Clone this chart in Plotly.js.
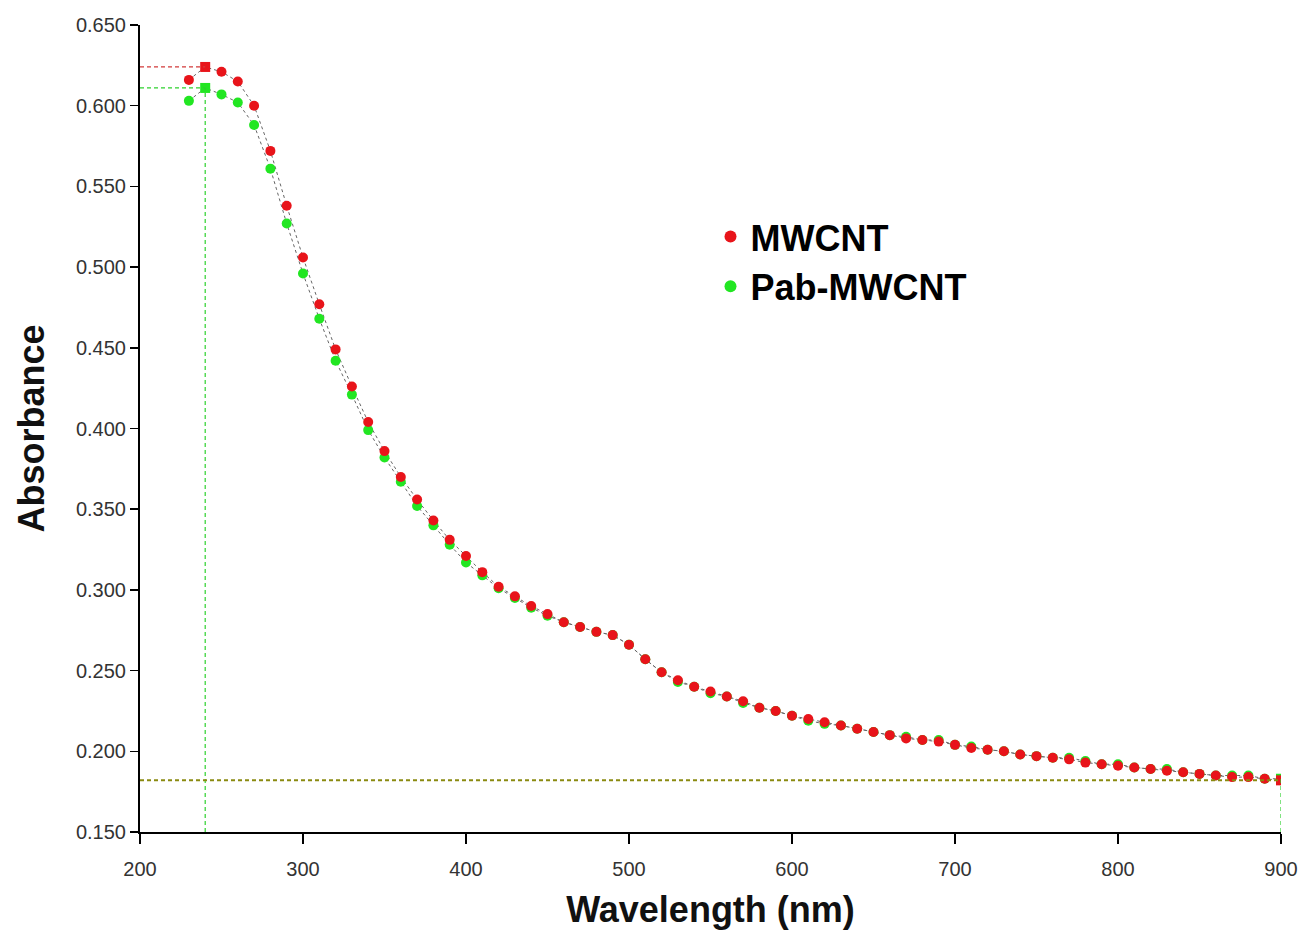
<!DOCTYPE html>
<html>
<head>
<meta charset="utf-8">
<script src="https://cdn.plot.ly/plotly-3.0.1.min.js"></script>
<style>html,body{margin:0;padding:0;background:#fff;}#chart{width:1302px;height:932px;}</style>
</head>
<body>
<div id="chart"></div>
<script>
// Wavelength (nm)
var wavelength = [230,240,250,260,270,280,290,300,310,320,330,340,350,360,370,380,390,400,410,420,430,440,450,460,470,480,490,500,510,520,530,540,550,560,570,580,590,600,610,620,630,640,650,660,670,680,690,700,710,720,730,740,750,760,770,780,790,800,810,820,830,840,850,860,870,880,890,900];
// MWCNT absorbance
var mwcnt = [0.616,0.624,0.621,0.615,0.600,0.572,0.538,0.506,0.477,0.449,0.426,0.404,0.386,0.370,0.356,0.343,0.331,0.321,0.311,0.302,0.296,0.290,0.285,0.280,0.277,0.274,0.272,0.266,0.257,0.249,0.244,0.240,0.237,0.234,0.231,0.227,0.225,0.222,0.220,0.218,0.216,0.214,0.212,0.210,0.208,0.207,0.206,0.204,0.202,0.201,0.200,0.198,0.197,0.196,0.195,0.193,0.192,0.191,0.190,0.189,0.188,0.187,0.186,0.185,0.184,0.184,0.183,0.182];
// Pab-MWCNT absorbance
var pabMwcnt = [0.603,0.611,0.607,0.602,0.588,0.561,0.527,0.496,0.468,0.442,0.421,0.399,0.382,0.367,0.352,0.340,0.328,0.317,0.309,0.301,0.295,0.289,0.284,0.280,0.277,0.274,0.272,0.266,0.257,0.249,0.243,0.240,0.236,0.234,0.230,0.227,0.225,0.222,0.219,0.217,0.216,0.214,0.212,0.210,0.209,0.207,0.207,0.204,0.203,0.201,0.200,0.198,0.197,0.196,0.196,0.194,0.192,0.192,0.190,0.189,0.189,0.187,0.186,0.185,0.185,0.185,0.183,0.183];
var seriesNames = ['MWCNT','Pab-MWCNT'];
var yTickVals = [0.15,0.2,0.25,0.3,0.35,0.4,0.45,0.5,0.55,0.6,0.65];
var xTickVals = [200,300,400,500,600,700,800,900];

function peakIndex(arr){var m=0;for(var i=1;i<arr.length;i++){if(arr[i]>arr[m])m=i;}return m;}
var pr = peakIndex(mwcnt), pg = peakIndex(pabMwcnt);
var last = wavelength.length-1;
function symbols(arr, pk){return arr.map(function(v,i){return (i===pk||i===last)?'square':'circle';});}

var FONT = 'Liberation Sans, Arial, sans-serif';
var traces = [
  {x: wavelength, y: pabMwcnt, mode:'lines', line:{color:'#666', width:1, dash:'3px,3px'}, showlegend:false, hoverinfo:'skip'},
  {x: wavelength, y: mwcnt, mode:'lines', line:{color:'#666', width:1, dash:'3px,3px'}, showlegend:false, hoverinfo:'skip'},
  {x: wavelength, y: pabMwcnt, mode:'markers', name: seriesNames[1], legendrank:2,
   marker:{color:'#22e622', size:10, symbol: symbols(pabMwcnt,pg)}},
  {x: wavelength, y: mwcnt, mode:'markers', name: seriesNames[0], legendrank:1,
   marker:{color:'#e8141a', size:10, symbol: symbols(mwcnt,pr)}}
];

var shapes = [
  {type:'line', xref:'x', yref:'y', x0:200, x1:wavelength[pr], y0:mwcnt[pr], y1:mwcnt[pr], line:{color:'#d23a3a', width:1.2, dash:'4px,3px'}},
  {type:'line', xref:'x', yref:'y', x0:200, x1:wavelength[pg], y0:pabMwcnt[pg], y1:pabMwcnt[pg], line:{color:'#2ed12e', width:1.2, dash:'4px,3px'}},
  {type:'line', xref:'x', yref:'y', x0:wavelength[pg], x1:wavelength[pg], y0:0.15, y1:pabMwcnt[pg], line:{color:'#2ed12e', width:1.2, dash:'4px,3px'}},
  {type:'line', xref:'x', yref:'y', x0:200, x1:900, y0:mwcnt[last], y1:mwcnt[last], line:{color:'#8a8a10', width:2, dash:'4px,3px'}},
  {type:'line', xref:'x', yref:'y', x0:wavelength[last], x1:wavelength[last], y0:0.15, y1:pabMwcnt[last], line:{color:'#2ed12e', width:1.2, dash:'4px,3px'}}
];

var layout = {
  width:1302, height:932,
  margin:{l:140, r:21, t:25, b:100},
  paper_bgcolor:'#fff', plot_bgcolor:'#fff',
  font:{family:FONT, color:'#333'},
  showlegend:true,
  legend:{x:0.5, y:0.775, xanchor:'left', yanchor:'top', font:{family:FONT, size:36, color:'#000', weight:'bold'}, bgcolor:'rgba(0,0,0,0)', itemsizing:'constant', tracegroupgap:0},
  xaxis:{range:[200,900], tickvals:xTickVals, ticks:'outside', ticklen:10, tickwidth:1.5, tickcolor:'#000', showline:true, linecolor:'#000', linewidth:2, showgrid:false, zeroline:false,
    ticklabelstandoff:8,
    tickfont:{family:FONT, size:20, color:'#333'},
    title:{text:'<b>Wavelength (nm)</b>', font:{family:FONT, size:36, color:'#111'}, standoff:18}},
  yaxis:{range:[0.15,0.65], tickvals:yTickVals, tickformat:'.3f', ticks:'outside', ticklen:8, tickwidth:1.5, tickcolor:'#000', showline:true, linecolor:'#000', linewidth:2, showgrid:false, zeroline:false,
    tickfont:{family:FONT, size:20, color:'#333'},
    title:{text:'<b>Absorbance</b>', font:{family:FONT, size:36, color:'#111'}, standoff:20}},
  shapes:shapes
};

Plotly.newPlot('chart', traces, layout, {displayModeBar:false, staticPlot:true});
</script>
</body>
</html>
